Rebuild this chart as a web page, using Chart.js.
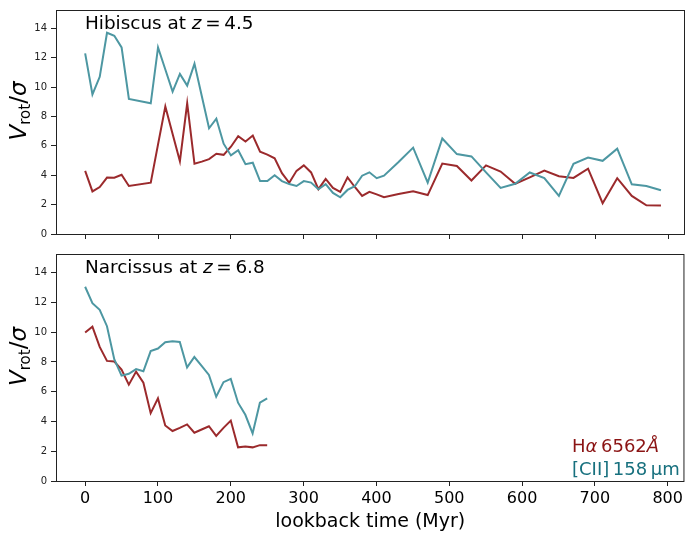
<!DOCTYPE html>
<html>
<head>
<meta charset="utf-8">
<script src="https://cdn.jsdelivr.net/npm/chart.js@4.4.1/dist/chart.umd.min.js"></script>
<style>
  body { margin: 0; background: #fff; }
  #wrap { position: relative; width: 686px; height: 539px; }
  canvas { position: absolute; left: 0; }
</style>
</head>
<body>
<div id="wrap">
  <canvas id="top" width="686" height="244" style="top:0;width:686px;height:244px"></canvas>
  <canvas id="bot" width="686" height="295" style="top:244px;width:686px;height:295px"></canvas>
</div>
<script>
// lookback time (Myr)
const tHibiscus = [0, 10, 20, 30, 40, 50, 60, 90, 100, 110, 120, 130, 140, 150, 160, 170, 180, 190, 200,
  210, 220, 230, 240, 250, 260, 270, 280, 290, 300, 310, 320, 330, 340, 350, 360, 370, 380, 390, 400,
  410, 430, 450, 470, 490, 510, 530, 550, 570, 590, 610, 630, 650, 670, 690, 710, 730, 750, 770, 790];
const ciiHibiscus = [12.3, 9.5, 10.7, 13.7, 13.5, 12.7, 9.2, 8.9, 12.7, 11.2, 9.7, 10.9, 10.1, 11.6, 9.4, 7.2, 7.85, 6.15, 5.35,
  5.7, 4.75, 4.85, 3.6, 3.6, 4.0, 3.6, 3.4, 3.27, 3.6, 3.5, 3.05, 3.4, 2.8, 2.5, 3.0, 3.25, 3.97, 4.2, 3.8,
  3.97, 4.9, 5.88, 3.5, 6.5, 5.44, 5.28, 4.2, 3.14, 3.42, 4.19, 3.8, 2.59, 4.78, 5.2, 4.98, 5.81, 3.38, 3.27, 2.98];
const haHibiscus = [4.3, 2.9, 3.2, 3.84, 3.83, 4.03, 3.27, 3.49, 6.1, 8.68, 6.8, 4.95, 8.9, 4.78, 4.93, 5.1, 5.46, 5.39, 5.94,
  6.66, 6.3, 6.7, 5.6, 5.4, 5.15, 4.14, 3.49, 4.3, 4.67, 4.19, 3.05, 3.75, 3.14, 2.87, 3.86, 3.2, 2.59, 2.87, 2.7,
  2.5, 2.72, 2.91, 2.65, 4.8, 4.63, 3.64, 4.67, 4.25, 3.42, 3.86, 4.32, 3.93, 3.82, 4.45, 2.1, 3.8, 2.59, 1.95, 1.94];

const tNarcissus = [0, 10, 20, 30, 40, 50, 60, 70, 80, 90, 100, 110, 120, 130, 140, 150, 160, 170, 180, 190, 200,
  210, 220, 230, 240, 250];
const ciiNarcissus = [13.05, 11.95, 11.5, 10.4, 8.18, 7.08, 7.2, 7.52, 7.37, 8.73, 8.9, 9.32, 9.39, 9.34, 7.63, 8.33, 7.74,
  7.13, 5.66, 6.64, 6.86, 5.26, 4.45, 3.2, 5.26, 5.55];
const haNarcissus = [9.98, 10.37, 9.01, 8.07, 8.03, 7.48, 6.47, 7.35, 6.6, 4.56, 5.55, 3.73, 3.36, 3.57, 3.8, 3.24, 3.46,
  3.68, 3.03, 3.57, 4.06, 2.26, 2.32, 2.26, 2.41, 2.41];

const xTicks = [0, 100, 200, 300, 400, 500, 600, 700, 800];
const yTicks = [0, 2, 4, 6, 8, 10, 12, 14];

const colCII = '#4d97a2';
const colHa = '#9b2a2c';
const FONT = '"DejaVu Sans", sans-serif';

function pts(t, v) {
  return t.map((x, i) => ({ x: x, y: v[i] }));
}

// draws a row of text pieces, each with its own font
function drawRich(ctx, x, y, parts, align) {
  let total = 0;
  parts.forEach(p => { ctx.font = p[1]; total += ctx.measureText(p[0]).width; });
  let cx = align === 'right' ? x - total : align === 'center' ? x - total / 2 : x;
  parts.forEach(p => {
    ctx.font = p[1];
    ctx.fillText(p[0], cx, y + (p[2] || 0));
    cx += ctx.measureText(p[0]).width;
  });
}

function panelPlugin(name, zval, legend) {
  return {
    id: 'panel_' + name,
    afterDraw(chart) {
      const ctx = chart.ctx;
      const a = chart.chartArea;
      ctx.save();
      // frame
      ctx.strokeStyle = '#222';
      ctx.lineWidth = 1;
      ctx.strokeRect(a.left + 0.5, a.top + 0.5, a.right - a.left - 1, a.bottom - a.top);
      ctx.textBaseline = 'alphabetic';
      ctx.fillStyle = '#000';
      drawRich(ctx, 85, a.top + 19, [
        [name + ' at ', '18.4px ' + FONT],
        ['z', 'italic 18.4px ' + FONT],
        ['\u2009=\u20094.5'.replace('4.5', zval), '18.4px ' + FONT]
      ], 'left');
      // y label
      ctx.save();
      ctx.translate(26, (a.top + a.bottom) / 2 - 11);
      ctx.rotate(-Math.PI / 2);
      drawRich(ctx, 0, 0, [
        ['V', 'italic 23px ' + FONT],
        ['rot', '15px ' + FONT, 4],
        ['/', '23px ' + FONT],
        ['σ', 'italic 23px ' + FONT]
      ], 'center');
      ctx.restore();
      if (legend) {
        ctx.fillStyle = '#8b1414';
        drawRich(ctx, 572, a.bottom - 29, [
          ['H', '18px ' + FONT],
          ['α', 'italic 18px ' + FONT],
          ['\u20096562', '18px ' + FONT],
          ['Å', 'italic 18px ' + FONT]
        ], 'left');
        ctx.fillStyle = '#17707e';
        drawRich(ctx, 572, a.bottom - 6, [['[CII]\u2009158\u2009µm', '18px ' + FONT]], 'left');
      }
      ctx.restore();
    }
  };
}

function makeChart(id, t, cii, ha, bottom, plugin) {
  const ctx = document.getElementById(id).getContext('2d');
  return new Chart(ctx, {
    type: 'line',
    data: {
      datasets: [
        { label: '[CII] 158 µm', data: pts(t, cii), borderColor: colCII, borderWidth: 2, pointRadius: 0, tension: 0 },
        { label: 'Hα 6562Å', data: pts(t, ha), borderColor: colHa, borderWidth: 2, pointRadius: 0, tension: 0 }
      ]
    },
    options: {
      responsive: false,
      animation: false,
      devicePixelRatio: 1,
      layout: { padding: { top: 5, right: 1, left: 0, bottom: 0 } },
      plugins: { legend: { display: false }, tooltip: { enabled: false } },
      scales: {
        x: {
          type: 'linear', min: -40, max: 823,
          afterBuildTicks: s => { s.ticks = xTicks.map(v => ({ value: v })); },
          afterFit: s => { s.height = bottom ? 58 : 7; },
          border: { display: false },
          grid: { drawOnChartArea: false, drawTicks: true, tickLength: 5, color: '#222' },
          ticks: { display: bottom, font: { family: FONT, size: 16 }, color: '#000', padding: 3, maxRotation: 0 },
          title: { display: bottom, text: 'lookback time (Myr)', font: { family: FONT, size: 19 }, color: '#000', padding: { top: 2, bottom: 6 } }
        },
        y: {
          min: 0, max: 15.25,
          afterBuildTicks: s => { s.ticks = yTicks.map(v => ({ value: v })); },
          afterFit: s => { s.width = 56; },
          border: { display: false },
          grid: { drawOnChartArea: false, drawTicks: true, tickLength: 5, color: '#222' },
          ticks: { font: { family: FONT, size: 10 }, color: '#222', padding: 4 }
        }
      }
    },
    plugins: [plugin]
  });
}

makeChart('top', tHibiscus, ciiHibiscus, haHibiscus, false, panelPlugin('Hibiscus', '4.5', false));
makeChart('bot', tNarcissus, ciiNarcissus, haNarcissus, true, panelPlugin('Narcissus', '6.8', true));
</script>
</body>
</html>
